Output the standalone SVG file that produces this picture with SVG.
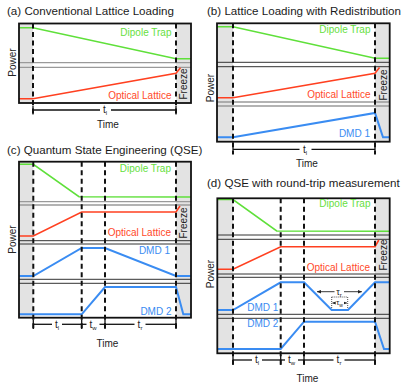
<svg xmlns="http://www.w3.org/2000/svg" width="408" height="385" viewBox="0 0 408 385">
<defs>
<style>
.bg{fill:#fff}
.shade{fill:#e3e3e3}
.box{fill:none;stroke:#111;stroke-width:1.8}
.dash{stroke:#111;stroke-width:2;stroke-dasharray:5,3.5;fill:none}
.sk{stroke:#333;stroke-width:1;fill:none}
.sg{stroke:#9a9a9a;stroke-width:1.3;fill:none}
.cg{stroke:#5fe03a;stroke-width:1.6;fill:none}
.cr{stroke:#ff4020;stroke-width:1.6;fill:none}
.cb{stroke:#3a8cf2;stroke-width:2;fill:none}
.tb{stroke:#111;stroke-width:1.3;fill:none}
text{font-family:"Liberation Sans",Arial,sans-serif}
.title{font-size:11.6px;fill:#1a1a1a}
.lab{font-size:10px;text-anchor:end}
.lg{fill:#66e040}
.lr{fill:#ff4a2a}
.lb{fill:#3a8cf2}
.ax{font-size:10px;fill:#222;text-anchor:middle}
.tl{font-size:10px;fill:#222;text-anchor:middle}
.sub{font-size:6px}
.tau{stroke:#222;stroke-width:0.9;fill:none}
.dot{stroke:#222;stroke-width:0.8;stroke-dasharray:1,1;fill:none}
</style>
<marker id="ah" viewBox="0 0 6 6" refX="5.5" refY="3" markerWidth="5" markerHeight="5" orient="auto-start-reverse"><path d="M0,0.5 L6,3 L0,5.5 z" fill="#222"/></marker>
</defs>
<rect class="bg" x="0" y="0" width="408" height="385"/>

<!-- Panel A -->
<g id="panel-a">
<text class="title" x="7" y="15">(a) Conventional Lattice Loading</text>
<rect class="shade" x="19" y="23.5" width="14" height="79.5"/>
<rect class="shade" x="176" y="23.5" width="15" height="79.5"/>
<line class="sg" x1="19" y1="62.7" x2="191" y2="62.7"/>
<line class="sg" x1="19" y1="67.3" x2="191" y2="67.3"/>
<polyline class="cg" points="19,27.7 33,27.7 176,58.7 191,58.7"/>
<polyline class="cr" points="19,98.7 33,98.7 176,73.3 180.5,67.8"/>
<line class="dash" x1="33" y1="23.5" x2="33" y2="115"/>
<line class="dash" x1="176" y1="23.5" x2="176" y2="115"/>
<rect class="box" x="19" y="23.5" width="172" height="79.5"/>
<text class="lab lg" x="171.5" y="35.5">Dipole Trap</text>
<text class="lab lr" x="171.5" y="98.5">Optical Lattice</text>
<text class="ax" transform="translate(187,84) rotate(-90)">Freeze</text>
<text class="ax" transform="translate(15.5,62.5) rotate(-90)">Power</text>
<g class="tbar">
<line class="tb" x1="33" y1="110" x2="100" y2="110"/>
<line class="tb" x1="111" y1="110" x2="176" y2="110"/>
<line class="tb" x1="33" y1="105.5" x2="33" y2="114.5"/>
<line class="tb" x1="176" y1="105.5" x2="176" y2="114.5"/>
</g>
<text class="tl" x="105" y="113">t<tspan class="sub" dy="2">l</tspan></text>
<text class="ax" x="108" y="128">Time</text>
</g>

<!-- Panel B -->
<g id="panel-b">
<text class="title" x="207" y="15">(b) Lattice Loading with Redistribution</text>
<rect class="shade" x="217" y="23.3" width="16" height="118.4"/>
<rect class="shade" x="375" y="23.3" width="14.7" height="118.4"/>
<line class="sk" x1="217" y1="62.3" x2="389.7" y2="62.3"/>
<line class="sk" x1="217" y1="66.7" x2="389.7" y2="66.7"/>
<line class="sg" x1="217" y1="102" x2="389.7" y2="102"/>
<line class="sg" x1="217" y1="106" x2="389.7" y2="106"/>
<polyline class="cg" points="217,26.7 233,26.7 375,58.3 389.7,58.3"/>
<polyline class="cr" points="217,97.7 233,97.7 375,73.3 379.5,67.5"/>
<polyline class="cb" points="217,137.3 233,137.3 375,112.9 383,137.3 389.7,137.3"/>
<line class="dash" x1="233" y1="23.3" x2="233" y2="154.5"/>
<line class="dash" x1="375" y1="23.3" x2="375" y2="154.5"/>
<rect class="box" x="217" y="23.3" width="172.7" height="118.4"/>
<text class="lab lg" x="370.5" y="33.2">Dipole Trap</text>
<text class="lab lr" x="370.5" y="97.8">Optical Lattice</text>
<text class="lab lb" x="370" y="137.3">DMD 1</text>
<text class="ax" transform="translate(387,85) rotate(-90)">Freeze</text>
<text class="ax" transform="translate(213.5,88) rotate(-90)">Power</text>
<line class="tb" x1="233" y1="149.3" x2="299.5" y2="149.3"/>
<line class="tb" x1="311.5" y1="149.3" x2="375" y2="149.3"/>
<line class="tb" x1="233" y1="144.5" x2="233" y2="154"/>
<line class="tb" x1="375" y1="144.5" x2="375" y2="154"/>
<text class="tl" x="305" y="152.5">t<tspan class="sub" dy="2">l</tspan></text>
<text class="ax" x="307" y="167">Time</text>
</g>

<!-- Panel C -->
<g id="panel-c">
<text class="title" x="7" y="154">(c) Quantum State Engineering (QSE)</text>
<rect class="shade" x="19" y="161.7" width="14.3" height="156"/>
<rect class="shade" x="176" y="161.7" width="15" height="156"/>
<line class="sg" x1="19" y1="201.7" x2="191" y2="201.7"/>
<line class="sg" x1="19" y1="205" x2="191" y2="205"/>
<line class="sk" x1="19" y1="240.7" x2="191" y2="240.7"/>
<line class="sk" x1="19" y1="244" x2="191" y2="244"/>
<line class="sk" x1="19" y1="279.3" x2="191" y2="279.3"/>
<line class="sk" x1="19" y1="283.3" x2="191" y2="283.3"/>
<polyline class="cg" points="19,164.3 33.3,164.3 79,196.7 191,197"/>
<polyline class="cr" points="19,236 33.3,236 81.7,212 176,212 180,206"/>
<polyline class="cb" points="19,276 33.3,276 81.7,248 105,248 176,276 191,276"/>
<polyline class="cb" points="19,314.3 81.7,314.3 105,287 176,287 183.3,314.3 191,314.3"/>
<line class="dash" x1="33.3" y1="161.7" x2="33.3" y2="329.5"/>
<line class="dash" x1="81.7" y1="161.7" x2="81.7" y2="329.5"/>
<line class="dash" x1="105" y1="161.7" x2="105" y2="329.5"/>
<line class="dash" x1="176" y1="161.7" x2="176" y2="329.5"/>
<rect class="box" x="19" y="161.7" width="172" height="156"/>
<text class="lab lg" x="171" y="172">Dipole Trap</text>
<text class="lab lr" x="171" y="235.5">Optical Lattice</text>
<text class="lab lb" x="170" y="254">DMD 1</text>
<text class="lab lb" x="171.5" y="315">DMD 2</text>
<text class="ax" transform="translate(187,223) rotate(-90)">Freeze</text>
<text class="ax" transform="translate(15.5,239.5) rotate(-90)">Power</text>
<line class="tb" x1="33.3" y1="324.3" x2="52" y2="324.3"/>
<line class="tb" x1="62" y1="324.3" x2="81.7" y2="324.3"/>
<line class="tb" x1="81.7" y1="324.3" x2="86.5" y2="324.3"/>
<line class="tb" x1="99.5" y1="324.3" x2="105" y2="324.3"/>
<line class="tb" x1="105" y1="324.3" x2="134.5" y2="324.3"/>
<line class="tb" x1="145.5" y1="324.3" x2="176" y2="324.3"/>
<line class="tb" x1="33.3" y1="319.5" x2="33.3" y2="329"/>
<line class="tb" x1="81.7" y1="319.5" x2="81.7" y2="329"/>
<line class="tb" x1="105" y1="319.5" x2="105" y2="329"/>
<line class="tb" x1="176" y1="319.5" x2="176" y2="329"/>
<text class="tl" x="57" y="327.5">t<tspan class="sub" dy="2">l</tspan></text>
<text class="tl" x="93" y="327.5">t<tspan class="sub" dy="2">w</tspan></text>
<text class="tl" x="140" y="327.5">t<tspan class="sub" dy="2">r</tspan></text>
<text class="ax" x="107.5" y="346.7">Time</text>
</g>

<!-- Panel D -->
<g id="panel-d">
<text class="title" x="207" y="187">(d) QSE with round-trip measurement</text>
<rect class="shade" x="217.3" y="198.3" width="15.7" height="155"/>
<rect class="shade" x="375" y="198.3" width="14.7" height="155"/>
<line class="sk" x1="217.3" y1="235" x2="389.7" y2="235"/>
<line class="sk" x1="217.3" y1="239.3" x2="389.7" y2="239.3"/>
<line class="sk" x1="217.3" y1="274" x2="389.7" y2="274"/>
<line class="sk" x1="217.3" y1="277.3" x2="389.7" y2="277.3"/>
<line class="sk" x1="217.3" y1="314.3" x2="389.7" y2="314.3"/>
<line class="sk" x1="217.3" y1="318.3" x2="389.7" y2="318.3"/>
<polyline class="cg" points="217.3,199.5 233,199.5 276.7,231 389.7,231.3"/>
<polyline class="cr" points="217.3,269.3 233,269.3 280.7,246.7 375,246.7 378.8,240"/>
<polyline class="cb" points="217.3,310 233,310 280.7,282.3 304,282.3 331.7,310 348,310 375,282.3 389.7,282.3"/>
<polyline class="cb" points="217.3,349 280.7,349 304,321.7 375,321.7 384,349 389.7,349"/>
<line class="dash" x1="233" y1="198.3" x2="233" y2="365"/>
<line class="dash" x1="280.7" y1="198.3" x2="280.7" y2="365"/>
<line class="dash" x1="304" y1="198.3" x2="304" y2="365"/>
<line class="dash" x1="375" y1="198.3" x2="375" y2="365"/>
<rect class="box" x="217.3" y="198.3" width="172.4" height="155"/>
<text class="lab lg" x="370.5" y="206.5">Dipole Trap</text>
<text class="lab lr" x="370" y="270.5">Optical Lattice</text>
<text class="lab lb" x="278" y="310.5" style="text-anchor:start" dx="-30.7">DMD 1</text>
<text class="lab lb" x="278" y="326.7" style="text-anchor:start" dx="-30.7">DMD 2</text>
<text class="ax" transform="translate(387,255) rotate(-90)">Freeze</text>
<text class="ax" transform="translate(213.5,274) rotate(-90)">Power</text>
<line class="tau" x1="317" y1="291.7" x2="334.5" y2="291.7" marker-start="url(#ah)"/>
<line class="tau" x1="344" y1="291.7" x2="361.8" y2="291.7" marker-end="url(#ah)"/>
<text class="tl" x="339" y="294.5" style="font-size:9px">τ<tspan class="sub" dy="2">r</tspan></text>
<line class="dot" x1="331.7" y1="297" x2="331.7" y2="308"/>
<line class="dot" x1="347.7" y1="297" x2="347.7" y2="308"/>
<line class="dot" x1="331.7" y1="297" x2="347.7" y2="297"/>
<line class="tau" x1="335" y1="303" x2="332.5" y2="303" marker-end="url(#ah)" style="stroke-width:0.7"/>
<line class="tau" x1="344.5" y1="303" x2="347" y2="303" marker-end="url(#ah)" style="stroke-width:0.7"/>
<text class="tl" x="339.5" y="305" style="font-size:7.5px">τ<tspan style="font-size:5px" dy="1.5">w</tspan></text>
<line class="tb" x1="233" y1="360" x2="252" y2="360"/>
<line class="tb" x1="262" y1="360" x2="280.7" y2="360"/>
<line class="tb" x1="280.7" y1="360" x2="285" y2="360"/>
<line class="tb" x1="298" y1="360" x2="304" y2="360"/>
<line class="tb" x1="304" y1="360" x2="333.5" y2="360"/>
<line class="tb" x1="344.5" y1="360" x2="375" y2="360"/>
<line class="tb" x1="233" y1="355.2" x2="233" y2="364.8"/>
<line class="tb" x1="280.7" y1="355.2" x2="280.7" y2="364.8"/>
<line class="tb" x1="304" y1="355.2" x2="304" y2="364.8"/>
<line class="tb" x1="375" y1="355.2" x2="375" y2="364.8"/>
<text class="tl" x="257" y="363.2">t<tspan class="sub" dy="2">l</tspan></text>
<text class="tl" x="291.5" y="363.2">t<tspan class="sub" dy="2">w</tspan></text>
<text class="tl" x="339" y="363.2">t<tspan class="sub" dy="2">r</tspan></text>
<text class="ax" x="307.5" y="381.7">Time</text>
</g>
</svg>
